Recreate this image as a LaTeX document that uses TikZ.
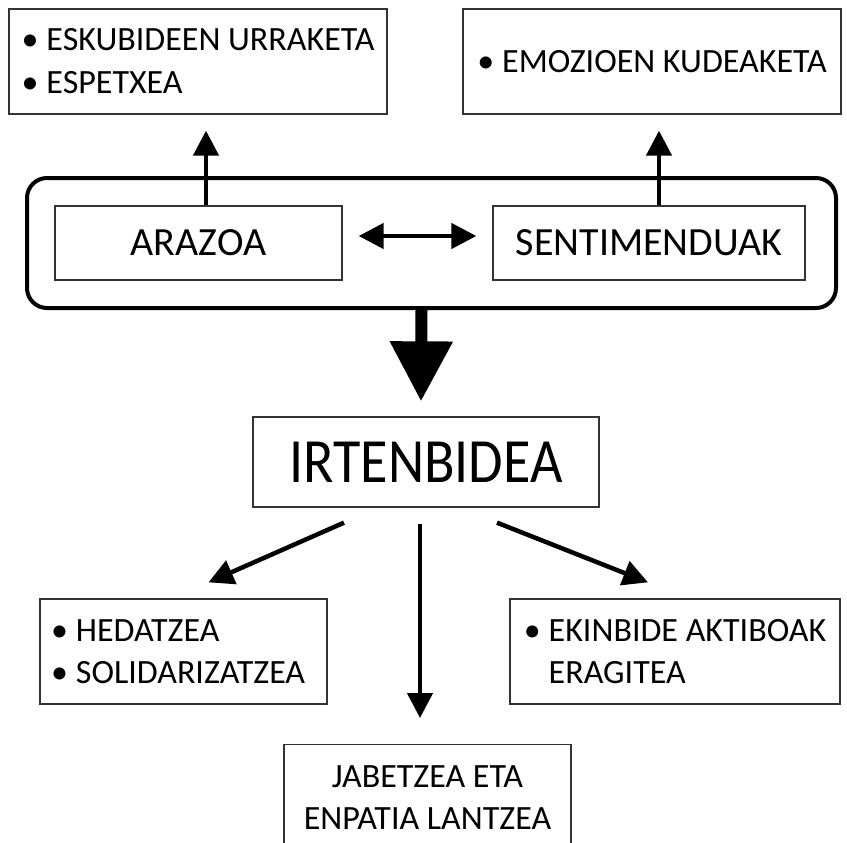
\documentclass[tikz,border=0pt]{standalone}
\usepackage{fontspec}
\setmainfont{Carlito}
\newfontfamily\narrowfont[FakeStretch=0.89]{Carlito}
\usetikzlibrary{arrows.meta}
\newcommand{\itm}{\textbullet\hspace{8pt}}

\begin{document}
\begin{tikzpicture}[x=1pt, y=-1pt,
	box/.style={draw=black!80, line width=1.3pt, inner sep=0pt},
	arr/.style={-{Triangle[width=25pt,length=25pt]}, line width=4.5pt},
	arrboth/.style={{Triangle[width=25pt,length=25pt]}-{Triangle[width=25pt,length=25pt]}, line width=4.5pt}]
	\useasboundingbox (0,0) rectangle (847,843);
	
	%top boxes
	\node (eskubide) at (198, 61.5) [box, minimum width=378pt, minimum height=105pt, align=left, font=\fontsize{34}{43}\selectfont]{\itm ESKUBIDEEN URRAKETA\\\itm ESPETXEA};
	\node (emozio) at (652, 61.5) [box, minimum width=378pt, minimum height=105pt, font=\fontsize{34}{43}\selectfont]{\itm EMOZIOEN KUDEAKETA};
	
	%problem and feelings
	\node (grupo) at (431.5, 243) [draw, rounded corners=20pt, line width=4pt, minimum width=809pt, minimum height=130pt]{};
	\node (arazoa) at (198.5, 243) [box, minimum width=287pt, minimum height=74pt, font=\fontsize{40}{48}\selectfont]{ARAZOA};
	\node (sentimendu) at (649, 243) [box, minimum width=312pt, minimum height=74pt, font=\fontsize{40}{48}\selectfont]{SENTIMENDUAK};
	\draw[arrboth, shorten <=16pt, shorten >=16pt] ([yshift=7pt]arazoa.east) -- ([yshift=7pt]sentimendu.west);
	\draw[arr] ([xshift=7.5pt]arazoa.north) -- ([xshift=8pt,yshift=-16pt]eskubide.south);
	\draw[arr] ([xshift=10pt]sentimendu.north) -- ([xshift=7pt,yshift=-16pt]emozio.south);
	
	%solution
	\node (irten) at (426, 462) [box, minimum width=346pt, minimum height=90pt, font=\narrowfont\fontsize{63}{70}\selectfont]{IRTENBIDEA};
	\draw[line width=12pt, -{Triangle[width=60pt,length=60pt]}] ([xshift=-10pt]grupo.south) -- ([xshift=-5pt,yshift=15pt]irten.north);
	
	%outcomes
	\node (hedatze) at (183.5, 651.5) [box, minimum height=105pt, text width=265pt, inner xsep=11pt, align=left, font=\fontsize{34}{42}\selectfont]{\itm HEDATZEA\\\itm SOLIDARIZATZEA};
	\node (ekinbide) at (675, 651.5) [box, minimum width=330pt, minimum height=105pt, align=left, font=\fontsize{34}{42}\selectfont]{\itm EKINBIDE AKTIBOAK\\\hphantom{\itm}ERAGITEA};
	\node (jabetze) at (427.5, 744) [box, anchor=north, minimum width=287pt, minimum height=106pt, align=center, font=\fontsize{34}{42}\selectfont]{JABETZEA ETA\\ENPATIA LANTZEA};
	\draw[arr] ([xshift=-82pt,yshift=-15pt]irten.south) -- ([xshift=25pt,yshift=16pt]hedatze.north);
	\draw[arr] ([xshift=-6pt,yshift=-16pt]irten.south) -- ([xshift=-7.5pt,yshift=26pt]jabetze.north);
	\draw[arr] ([xshift=71pt,yshift=-15pt]irten.south) -- ([xshift=-27pt,yshift=16pt]ekinbide.north);
\end{tikzpicture}
\end{document}
